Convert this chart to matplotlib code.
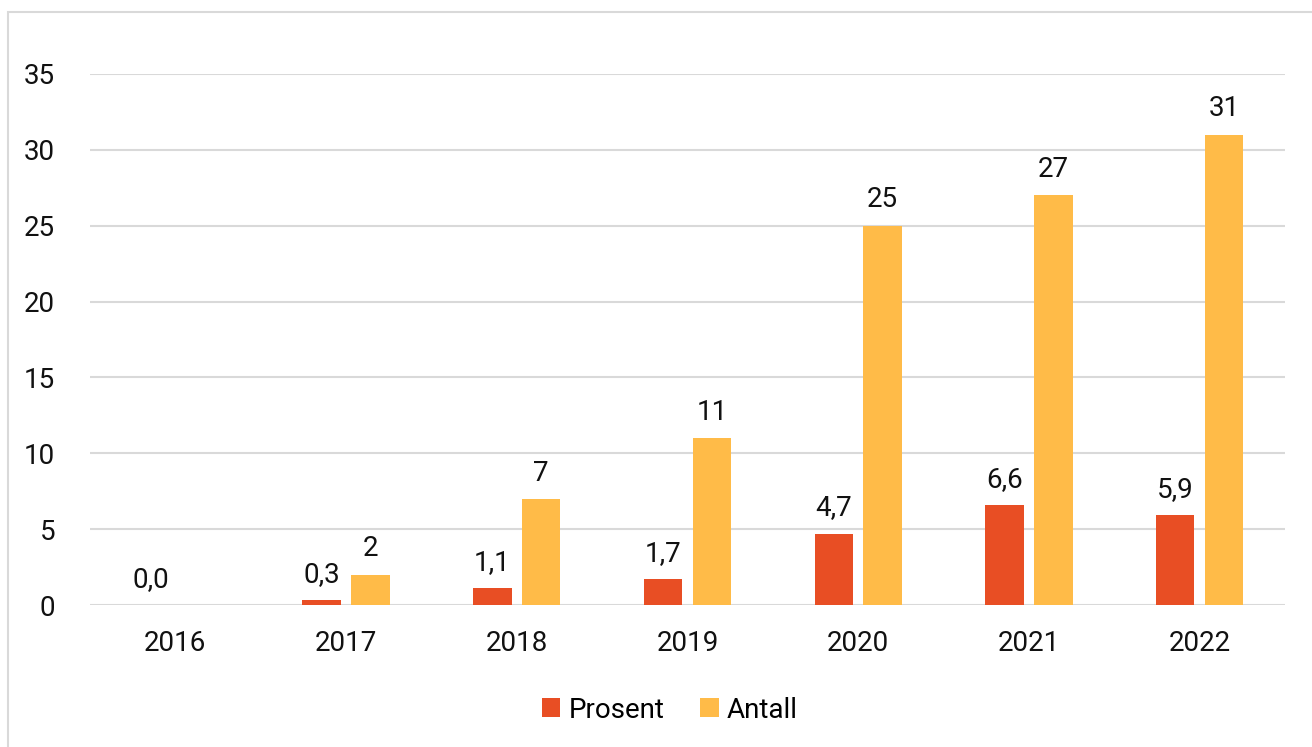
import numpy as np
import matplotlib
matplotlib.use("Agg")
import matplotlib.pyplot as plt
from matplotlib.patches import Rectangle

plt.rcParams['font.family'] = ['Roboto', 'DejaVu Sans']

years = ['2016', '2017', '2018', '2019', '2020', '2021', '2022']
prosent = [0.0, 0.3, 1.1, 1.7, 4.7, 6.6, 5.9]
antall = [0, 2, 7, 11, 25, 27, 31]
prosent_labels = ['0,0', '0,3', '1,1', '1,7', '4,7', '6,6', '5,9']

red = '#E84E24'
yellow = '#FFBB48'
fs = 20

fig = plt.figure(figsize=(13.12, 7.47), dpi=100)
# light frame around the chart area
fig.patches.append(Rectangle((8 / 1312, -0.01), 1.02, 1 - 12 / 747 + 0.01,
                             transform=fig.transFigure, fill=False,
                             edgecolor='#D9D9D9', linewidth=1.5))

ax = fig.add_axes([90 / 1312, 1 - 605 / 747, 1195 / 1312, 531 / 747])

x = np.arange(len(years))
w = 0.225
off = 0.143
b1 = ax.bar(x - off, prosent, w, color=red, label='Prosent', zorder=3)
b2 = ax.bar(x + off, antall, w, color=yellow, label='Antall', zorder=3)

for xi, v, s in zip(x, prosent, prosent_labels):
    ax.text(xi - off, v + 1.7, s, ha='center', va='center', fontsize=fs, color='#111111')
for xi, v in zip(x, antall):
    if xi == 0:
        continue
    ax.text(xi + off, v + 1.7, str(v), ha='center', va='center', fontsize=fs, color='#111111')

ax.set_xlim(-0.5, len(years) - 0.5)
ax.set_ylim(0, 35)
ax.set_yticks(range(0, 36, 5))
ax.set_xticks(x)
ax.set_xticklabels(years)
ax.yaxis.grid(True, color='#D9D9D9', linewidth=1.5, zorder=0)
ax.set_axisbelow(True)
for sp in ax.spines.values():
    sp.set_visible(False)
ax.tick_params(axis='both', length=0, labelsize=fs, colors='#111111')
ax.tick_params(axis='y', pad=25)
ax.tick_params(axis='x', pad=18)

fig.legend(handles=[b1, b2], loc='center', bbox_to_anchor=(670 / 1312, 1 - 710 / 747),
           ncol=2, frameon=False, fontsize=fs, handlelength=0.65, handleheight=0.65,
           handletextpad=0.3, columnspacing=1.3)

fig.savefig('out.png', dpi=100)
